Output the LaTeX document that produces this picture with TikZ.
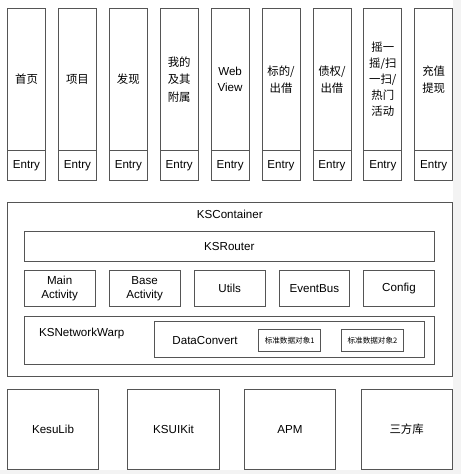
\documentclass[tikz,border=0pt]{standalone}
\usepackage{fontspec}
\setmainfont{Liberation Sans}
\newfontfamily\cjk{Noto Sans CJK SC}
\definecolor{lc}{HTML}{555555}
\definecolor{mg}{HTML}{F3F3F3}
\begin{document}
\begin{tikzpicture}[x=1pt,y=-1pt,
  box/.style={draw=lc,line width=0.8pt,rectangle,inner sep=0pt,align=center,text=black},
  lbl/.style={inner sep=0pt,align=center,text=black},
  font=\fontsize{11.6}{17}\selectfont]
\useasboundingbox (0,0) rectangle (461,474);
\fill[white] (0,0) rectangle (461,474);
\fill[mg] (452.8,0) rectangle (461,474);
\fill[mg] (0,470) rectangle (461,474);
% top columns
\newcommand{\mycol}[3]{%
  \node[box,minimum width=38pt,minimum height=142.7pt,font=#3] (c#1) at ({26.5+50.9*(#1-1)},79.35) {#2};
  \node[box,minimum width=38pt,minimum height=30pt] (e#1) at ({26.5+50.9*(#1-1)},165.7) {Entry};}
\mycol{1}{首页}{\cjk\fontsize{11.4}{17}\selectfont}
\mycol{2}{项目}{\cjk\fontsize{11.4}{17}\selectfont}
\mycol{3}{发现}{\cjk\fontsize{11.4}{17}\selectfont}
\mycol{4}{我的\\及其\\附属}{\cjk\fontsize{11.4}{17.3}\selectfont}
\mycol{5}{Web\\View}{\fontsize{11.6}{16}\selectfont}
\mycol{6}{标的/\\出借}{\cjk\fontsize{11.4}{16.7}\selectfont}
\mycol{7}{债权/\\出借}{\cjk\fontsize{11.4}{16.7}\selectfont}
\mycol{8}{摇一\\摇/扫\\一扫/\\热门\\活动}{\cjk\fontsize{11.4}{16}\selectfont}
\mycol{9}{充值\\提现}{\cjk\fontsize{11.4}{16.7}\selectfont}
% container
\node[box,minimum width=445pt,minimum height=174.4pt] (cont) at (229.8,289.5) {};
\node[lbl] (contl) at (229.8,214) {KSContainer};
\node[box,minimum width=410pt,minimum height=29.7pt] (router) at (229.3,246.15) {KSRouter};
\node[box,minimum width=70.7pt,minimum height=36.4pt,font=\fontsize{11.6}{13.7}\selectfont] (main) at (59.65,288.5) {Main\\Activity};
\node[box,minimum width=70.7pt,minimum height=36.4pt,font=\fontsize{11.6}{13.7}\selectfont] (base) at (144.65,288.5) {Base\\Activity};
\node[box,minimum width=70.7pt,minimum height=36.4pt] (utils) at (229.65,288.5) {Utils};
\node[box,minimum width=70.7pt,minimum height=36.4pt] (bus) at (314.35,288.5) {EventBus};
\node[box,minimum width=70.7pt,minimum height=36.4pt] (config) at (399,288.5) {Config};
\node[box,minimum width=410pt,minimum height=48pt] (net) at (229.3,340) {};
\node[lbl] (netl) at (81.7,333.3) {KSNetworkWarp};
\node[box,minimum width=270.7pt,minimum height=36pt] (dc) at (289.35,339.7) {};
\node[lbl] (dcl) at (205,340.7) {DataConvert};
\node[box,minimum width=62pt,minimum height=22.3pt,font=\cjk\fontsize{7.6}{9}\selectfont] (std1) at (289.7,340.15) {标准数据对象1};
\node[box,minimum width=61.6pt,minimum height=22.3pt,font=\cjk\fontsize{7.6}{9}\selectfont] (std2) at (372.5,340.15) {标准数据对象2};
% bottom row
\node[box,minimum width=91.4pt,minimum height=80.4pt] (kesu) at (53,429.5) {KesuLib};
\node[box,minimum width=91.6pt,minimum height=80.4pt] (ui) at (173.5,429.5) {KSUIKit};
\node[box,minimum width=91.7pt,minimum height=80.4pt] (apm) at (289.85,429.5) {APM};
\node[box,minimum width=91.3pt,minimum height=80.4pt,font=\cjk\fontsize{11.4}{13}\selectfont] (third) at (406.65,429.5) {三方库};
\end{tikzpicture}
\end{document}
